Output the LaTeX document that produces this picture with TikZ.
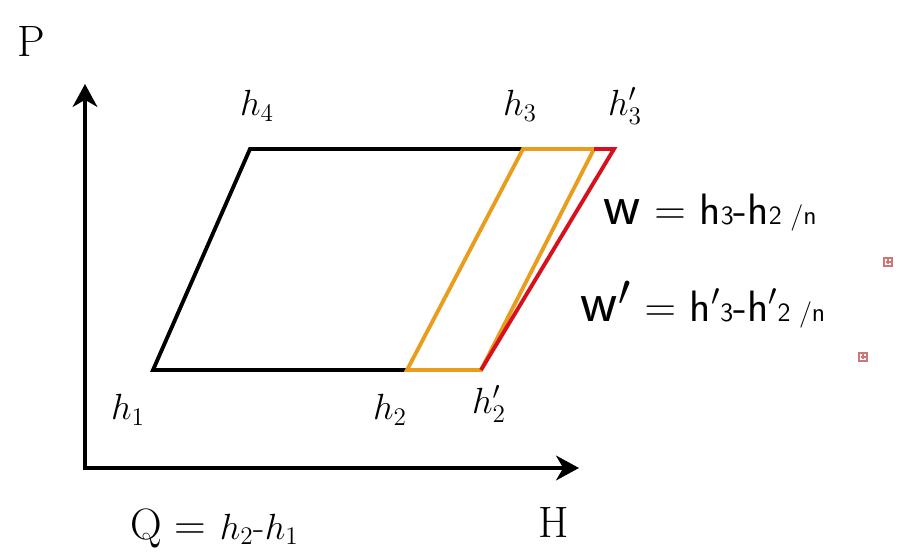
\documentclass[tikz,border=0pt]{standalone}
\usepackage{fontspec}
\usetikzlibrary{arrows.meta}
\usetikzlibrary{positioning}

\definecolor{orangeline}{RGB}{232,158,28}
\definecolor{redline}{RGB}{214,16,28}
\definecolor{markred}{RGB}{205,120,120}

\newcommand\smdigit[1]{{\fontsize{15}{17}\selectfont #1}}
\newcommand\bigeq{{\fontsize{30}{30}\selectfont$=$}}

\tikzset{
  axis/.style={line width=2.4pt, line join=miter},
  cycleline/.style={line width=2.2pt, line join=miter},
  hlabel/.style={font=\fontsize{21}{24}\selectfont, inner sep=1pt},
  axislabel/.style={font=\fontsize{25}{28}\selectfont, inner sep=1pt},
  wlabel/.style={font=\sffamily\fontsize{25}{28}\selectfont, inner sep=1pt},
}

\begin{document}
\begin{tikzpicture}[x=0.02cm, y=-0.02cm]
  \useasboundingbox (0,0) rectangle (900,560);

  % 座標軸
  \coordinate (O)    at (85,468);
  \coordinate (Ptop) at (85,84);
  \coordinate (Hend) at (579,468);
  \draw[axis, {Stealth[length=13pt,width=14pt,inset=4pt]}-{Stealth[length=13pt,width=14pt,inset=4pt]}]
    (Ptop) -- (O) -- (Hend);
  \node[axislabel] (P) at (31,42)  {P};
  \node[axislabel] (H) at (554,523) {H};

  % サイクルの点
  \coordinate (h1)  at (153,370);
  \coordinate (h2)  at (407,370);
  \coordinate (h3)  at (523,149);
  \coordinate (h4)  at (250,149);
  \coordinate (o3)  at (594,149);
  \coordinate (h3p) at (614,149);
  \coordinate (h2p) at (481,370);

  % 黒
  \draw[cycleline] (h2) -- (h1) -- (h4) -- (h3);
  % オレンジ
  \draw[cycleline, orangeline] (h2) -- (h3) -- (o3) -- (h2p) -- cycle;
  % 赤
  \draw[cycleline, redline] (o3) -- (h3p) -- (h2p);

  % ラベル
  \node[hlabel] (lh4)  at (257,106) {$h_4$};
  \node[hlabel] (lh3)  at (520,106) {$h_3$};
  \node[hlabel] (lh3p) at (625,106) {$h'_3$};
  \node[hlabel] (lh1)  at (128,410) {$h_1$};
  \node[hlabel] (lh2)  at (390,410) {$h_2$};
  \node[hlabel] (lh2p) at (489,404) {$h'_2$};

  % 式
  \node[wlabel] (wform) at (710,213)
    {{\fontsize{33}{33}\selectfont w} \bigeq{} h\smdigit{3}-h\smdigit{2 /n}};
  \node[wlabel] (wpform) at (703,305)
    {{\fontsize{33}{33}\selectfont w$'$} \bigeq{} h$'$\smdigit{3}-h$'$\smdigit{2 /n}};
  \node[axislabel, anchor=west] (qform) at (128,528)
    {Q = \fontsize{21}{24}\selectfont$h_2$-$h_1$};

  % 小さな印
  \foreach \mx/\my in {888/262, 863/357} {
    \draw[markred, line width=0.7pt] (\mx-4,\my-4) rectangle (\mx+4,\my+4);
    \draw[markred, line width=0.7pt] (\mx-2.5,\my) -- (\mx+2.5,\my) (\mx,\my-2.5) -- (\mx,\my+2.5);
  }
\end{tikzpicture}
\end{document}
